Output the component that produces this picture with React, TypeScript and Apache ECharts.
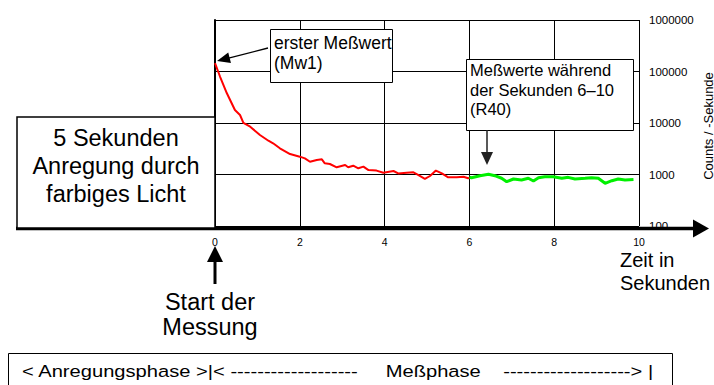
import React, { useEffect, useRef } from "react";
import * as echarts from "echarts";

// Red: decay right after excitation (0–6 s)
const redTimes = [0, 0.12, 0.28, 0.47, 0.59, 0.67, 0.83, 1.06, 1.26, 1.37, 1.53, 1.77, 2.0, 2.12, 2.24, 2.4, 2.52, 2.59, 2.71, 2.87, 3.07, 3.14, 3.26, 3.38, 3.5, 3.62, 3.81, 3.97, 4.21, 4.32, 4.52, 4.68, 4.79, 4.95, 5.07, 5.21, 5.35, 5.5, 5.7, 5.86, 5.97, 6.0];
const redCounts = [145000, 79000, 37800, 17900, 14300, 10100, 8470, 5850, 4530, 4040, 3230, 2500, 2220, 2060, 1770, 1910, 1970, 1650, 1600, 1380, 1530, 1380, 1480, 1320, 1420, 1220, 1190, 1080, 1170, 1050, 1080, 1100, 980, 820, 935, 1190, 1050, 880, 880, 905, 845, 860];

// Green: readings during seconds 6–10 (R40)
const greenTimes = [6.0, 6.05, 6.25, 6.45, 6.6, 6.76, 6.88, 7.04, 7.23, 7.39, 7.51, 7.63, 7.78, 7.98, 8.18, 8.33, 8.49, 8.73, 8.88, 9.04, 9.2, 9.36, 9.51, 9.67, 9.87];
const greenCounts = [890, 867, 948, 1010, 948, 845, 724, 818, 782, 845, 748, 867, 905, 905, 845, 880, 818, 845, 867, 845, 675, 758, 818, 782, 800];

const timeMin = 0;
const timeMax = 10;
const timeStep = 2;
const countMin = 100;
const countMax = 1000000;

const FONT = '"Liberation Sans", Arial, Helvetica, sans-serif';

function arrow(x1: number, y1: number, x2: number, y2: number, headLen: number, headHalf: number, width: number, color: string) {
  const dx = x2 - x1;
  const dy = y2 - y1;
  const len = Math.hypot(dx, dy);
  const ux = dx / len;
  const uy = dy / len;
  const bx = x2 - ux * headLen;
  const by = y2 - uy * headLen;
  const px = -uy;
  const py = ux;
  return [
    {
      type: "line",
      z: 100,
      shape: { x1, y1, x2: bx + ux * 2, y2: by + uy * 2 },
      style: { stroke: color, lineWidth: width },
    },
    {
      type: "polygon",
      z: 100,
      shape: {
        points: [
          [x2, y2],
          [bx + px * headHalf, by + py * headHalf],
          [bx - px * headHalf, by - py * headHalf],
        ],
      },
      style: { fill: color },
    },
  ];
}

function textBox(x: number, y: number, w: number, h: number, lw: number) {
  return {
    type: "rect",
    z: 100,
    shape: { x, y, width: w, height: h },
    style: { fill: "#fff", stroke: "#000", lineWidth: lw },
  };
}

function label(x: number, y: number, text: string, size: number, lineHeight: number, align: string, extra: any = {}) {
  return {
    type: "text",
    z: 101,
    x,
    y,
    ...extra,
    style: {
      text,
      fill: "#000",
      fontSize: size,
      fontFamily: FONT,
      lineHeight,
      textAlign: align,
      textVerticalAlign: "middle",
    },
  };
}

export default function App() {
  const ref = useRef<HTMLDivElement>(null);

  useEffect(() => {
    if (!ref.current) return;
    const chart = echarts.init(ref.current, undefined, { renderer: "svg" });

    const option: any = {
      animation: false,
      backgroundColor: "#fff",
      textStyle: { fontFamily: FONT },
      grid: { left: 215, top: 20, width: 424, height: 206, containLabel: false },
      xAxis: {
        type: "value",
        min: timeMin,
        max: timeMax,
        interval: timeStep,
        axisLine: { show: false },
        axisTick: { show: false },
        axisLabel: { color: "#000", fontSize: 10.5, fontFamily: FONT, margin: 10 },
        splitLine: { show: true, lineStyle: { color: "#000", width: 1 } },
      },
      yAxis: {
        type: "log",
        logBase: 10,
        min: countMin,
        max: countMax,
        position: "right",
        axisLine: { show: true, lineStyle: { color: "#000", width: 2 } },
        axisTick: { show: true, inside: false, length: 4, lineStyle: { color: "#000", width: 1 } },
        axisLabel: {
          color: "#000",
          fontSize: 11.5,
          fontFamily: FONT,
          margin: 10,
          formatter: (v: number) => String(Math.round(v)),
        },
        splitLine: { show: true, lineStyle: { color: "#000", width: 1 } },
      },
      series: [
        {
          type: "line",
          data: redTimes.map((t, i) => [t, redCounts[i]]),
          showSymbol: false,
          lineStyle: { color: "#ff0000", width: 2 },
          itemStyle: { color: "#ff0000" },
          z: 3,
        },
        {
          type: "line",
          data: greenTimes.map((t, i) => [t, greenCounts[i]]),
          showSymbol: false,
          lineStyle: { color: "#00f000", width: 3 },
          itemStyle: { color: "#00f000" },
          z: 3,
        },
      ],
      graphic: {
        elements: [
          // time axis with arrow
          {
            type: "line",
            z: 99,
            shape: { x1: 16, y1: 228.5, x2: 696, y2: 228.5 },
            style: { stroke: "#000", lineWidth: 3.5 },
          },
          {
            type: "polygon",
            z: 99,
            shape: { points: [[709, 228.5], [693, 219.5], [693, 237.5]] },
            style: { fill: "#000" },
          },
          // vertical axis title
          {
            type: "text",
            z: 101,
            x: 708,
            y: 126,
            rotation: Math.PI / 2,
            style: {
              text: "Counts / -Sekunde",
              fill: "#000",
              fontSize: 13,
              fontFamily: FONT,
              textAlign: "center",
              textVerticalAlign: "middle",
            },
          },
          // excitation box
          textBox(17, 117, 198, 111, 1.5),
          label(116, 166, "5 Sekunden\nAnregung durch\nfarbiges Licht", 23.5, 28, "center"),
          // first reading callout
          textBox(270.5, 29.5, 122, 53, 1),
          label(274, 53, "erster Meßwert\n(Mw1)", 17.5, 20, "left"),
          ...arrow(268, 48, 217, 61, 13, 5.5, 1.3, "#000"),
          // R40 callout
          textBox(466.5, 59.5, 167, 71, 1),
          label(470, 89.5, "Meßwerte während\nder Sekunden 6–10\n(R40)", 16.5, 19.5, "left"),
          ...arrow(487, 130, 487, 165, 13, 6, 1.5, "#222"),
          // start marker
          ...arrow(215, 284, 215, 246, 16, 8, 3, "#000"),
          label(210, 314.5, "Start der\nMessung", 23.5, 25, "center"),
          // time axis name
          label(620, 271.5, "Zeit in\nSekunden", 20, 23, "left"),
          // phase bar
          {
            type: "rect",
            z: 100,
            shape: { x: 8.5, y: 353.5, width: 664, height: 45 },
            style: { fill: "#fff", stroke: "#000", lineWidth: 1 },
          },
          label(
            22,
            371,
            "< Anregungsphase >|< -------------------     Meßphase    -------------------> |",
            17,
            20,
            "left",
            { scaleX: 1.185, scaleY: 1 }
          ),
        ],
      },
    };

    chart.setOption(option);
    return () => chart.dispose();
  }, []);

  return (
    <div
      ref={ref}
      style={{ position: "fixed", left: 0, top: 0, width: 714, height: 385, background: "#fff" }}
    />
  );
}
